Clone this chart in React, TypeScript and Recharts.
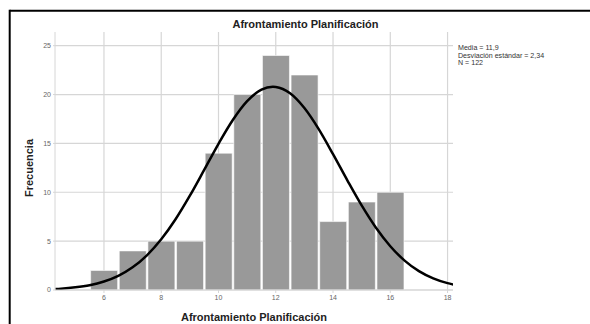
import { ComposedChart, Bar, Line, XAxis, YAxis, CartesianGrid } from "recharts";

// histogram bins (centre of each 1-wide class) and counts
const bins = [6, 7, 8, 9, 10, 11, 12, 13, 14, 15, 16];
const counts = [2, 4, 5, 5, 14, 20, 24, 22, 7, 9, 10];

// fitted normal curve
const fitX = [4.3, 4.5, 5, 5.5, 6, 6.5, 7, 7.5, 8, 8.5, 9, 9.5, 10, 10.5, 11, 11.5, 11.9, 12, 12.5, 13, 13.5, 14, 14.5, 15, 15.5, 16, 16.5, 17, 17.5, 18, 18.2];
const fitY = [0.11, 0.14, 0.27, 0.49, 0.87, 1.45, 2.32, 3.55, 5.19, 7.24, 9.65, 12.29, 14.96, 17.39, 19.32, 20.5, 20.8, 20.78, 20.13, 18.62, 16.46, 13.9, 11.22, 8.65, 6.37, 4.48, 3.01, 1.93, 1.19, 0.7, 0.56];

const xTicks = [6, 8, 10, 12, 14, 16, 18];
const yTicks = [0, 5, 10, 15, 20, 25];

const title = "Afrontamiento Planificación";
const yLabel = "Frecuencia";
const statLines = ["Media = 11,9", "Desviación estándar = 2,34", "N = 122"];

const histData = bins.map((x, i) => ({ x, count: counts[i] }));
const fitData = fitX.map((x, i) => ({ x, fit: fitY[i] }));

const FONT = '"Liberation Sans", Arial, sans-serif';
const GRID = "#d6d6d6";
const TICK = { fontSize: 7, fill: "#666", fontFamily: FONT };

export default function App() {
  return (
    <div style={{ position: "absolute", left: 0, top: 0, width: 590, height: 324, overflow: "hidden", background: "#fff" }}>
      <ComposedChart
        width={590}
        height={324}
        data={histData}
        margin={{ top: 32, right: 137, bottom: 14, left: 15 }}
      >
        <CartesianGrid stroke={GRID} strokeWidth={1.2} horizontalValues={yTicks} verticalValues={xTicks} />
        <XAxis
          dataKey="x"
          type="number"
          domain={[4.29, 18.19]}
          allowDataOverflow
          ticks={xTicks}
          height={20}
          tickSize={3}
          tickMargin={2}
          stroke={GRID}
          tick={TICK}
        />
        <XAxis xAxisId="fit" dataKey="x" type="number" domain={[4.29, 18.19]} allowDataOverflow hide />
        <YAxis
          type="number"
          domain={[0, 26.4]}
          allowDataOverflow
          ticks={yTicks}
          width={40}
          tickSize={2}
          tickMargin={2}
          stroke={GRID}
          tick={TICK}
        />
        <Bar dataKey="count" fill="#999999" stroke="#ffffff" strokeWidth={0.6} barSize={27} isAnimationActive={false} />
        <Line
          xAxisId="fit"
          data={fitData}
          dataKey="fit"
          type="monotone"
          stroke="#000"
          strokeWidth={2.5}
          dot={false}
          activeDot={false}
          isAnimationActive={false}
        />
      </ComposedChart>
      <svg width={590} height={324} style={{ position: "absolute", left: 0, top: 0, pointerEvents: "none" }}>
        <line x1={9.7} y1={10.7} x2={590} y2={10.7} stroke="#000" strokeWidth={2} />
        <line x1={9.7} y1={9.7} x2={9.7} y2={324} stroke="#000" strokeWidth={2} />
        <text x={305.5} y={28.3} textAnchor="middle" fontFamily={FONT} fontSize={11} fontWeight="bold" fill="#222">
          {title}
        </text>
        <text x={254} y={320.5} textAnchor="middle" fontFamily={FONT} fontSize={11} fontWeight="bold" fill="#222">
          {title}
        </text>
        <text
          x={33.3}
          y={168}
          textAnchor="middle"
          transform="rotate(-90 33.3 168)"
          fontFamily={FONT}
          fontSize={11}
          fontWeight="bold"
          fill="#222"
        >
          {yLabel}
        </text>
        {statLines.map((s, i) => (
          <text key={s} x={458} y={50 + i * 7.6} fontFamily={FONT} fontSize={7.1} fill="#333">
            {s}
          </text>
        ))}
      </svg>
    </div>
  );
}
